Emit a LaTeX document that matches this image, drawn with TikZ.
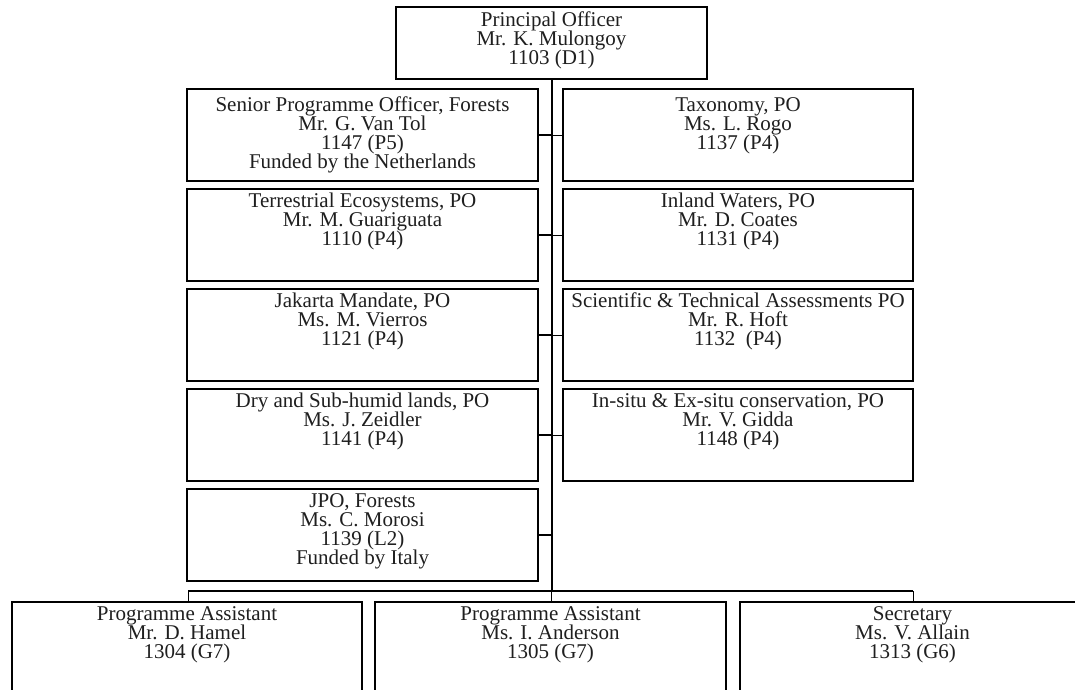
\documentclass[tikz,border=0pt]{standalone}
\usepackage{fontspec}
\setmainfont{Liberation Serif}
\newcommand\fl{\rule{0pt}{14.5pt}}
\newcommand\nodefont{\fontsize{21}{19}\selectfont}
\begin{document}
\setlength{\lineskiplimit}{-30pt}
\begin{tikzpicture}[x=1pt,y=-1pt,
  box/.style={draw, line width=2.6pt, inner sep=0pt, rectangle},
  txt/.style={anchor=north, inner sep=0pt, align=center, text=black!88, font=\nodefont},
  trunk/.style={line width=2pt},
  thinl/.style={line width=1pt},
  busline/.style={line width=2.5pt}]
\clip (0,0) rectangle (1075,689);
\fill[white] (0,0) rectangle (1075,689);
% top
\node[box, minimum width=311pt, minimum height=72pt] (P) at (551.5,43) {};
\node[txt] (tP) at ([yshift=-5.5pt]P.north) {\fl Principal Officer\\Mr. K. Mulongoy\\1103 (D1)};
% left column
\node[box, minimum width=351pt, minimum height=92pt] (L1) at (362.5,135) {};
\node[box, minimum width=351pt, minimum height=92pt] (L2) at (362.5,235) {};
\node[box, minimum width=351pt, minimum height=92pt] (L3) at (362.5,335) {};
\node[box, minimum width=351pt, minimum height=92pt] (L4) at (362.5,435) {};
\node[box, minimum width=351pt, minimum height=92pt] (L5) at (362.5,535) {};
% right column
\node[box, minimum width=350pt, minimum height=92pt] (R1) at (738,135) {};
\node[box, minimum width=350pt, minimum height=92pt] (R2) at (738,235) {};
\node[box, minimum width=350pt, minimum height=92pt] (R3) at (738,335) {};
\node[box, minimum width=350pt, minimum height=92pt] (R4) at (738,435) {};
% bottom row
\node[box, minimum width=350pt, minimum height=120pt] (B1) at (187,662) {};
\node[box, minimum width=351pt, minimum height=120pt] (B2) at (550.5,662) {};
\node[box, minimum width=345pt, minimum height=120pt] (B3) at (912.5,662) {};
% texts
\node[txt] (tL1) at ([yshift=-9pt]L1.north) {\fl Senior Programme Officer, Forests\\Mr. G. Van Tol\\1147 (P5)\\Funded by the Netherlands};
\node[txt] (tL2) at ([yshift=-5pt]L2.north) {\fl Terrestrial Ecosystems, PO\\Mr. M. Guariguata\\1110 (P4)};
\node[txt] (tL3) at ([yshift=-5pt]L3.north) {\fl Jakarta Mandate, PO\\Ms. M. Vierros\\1121 (P4)};
\node[txt] (tL4) at ([yshift=-5pt]L4.north) {\fl Dry and Sub-humid lands, PO\\Ms. J. Zeidler\\1141 (P4)};
\node[txt] (tL5) at ([yshift=-5pt]L5.north) {\fl JPO, Forests\\Ms. C. Morosi\\1139 (L2)\\Funded by Italy};
\node[txt] (tR1) at ([yshift=-9pt]R1.north) {\fl Taxonomy, PO\\Ms. L. Rogo\\1137 (P4)};
\node[txt] (tR2) at ([yshift=-5pt]R2.north) {\fl Inland Waters, PO\\Mr. D. Coates\\1131 (P4)};
\node[txt] (tR3) at ([yshift=-5pt]R3.north) {\fl Scientific \& Technical Assessments PO\\Mr. R. Hoft\\1132~~(P4)};
\node[txt] (tR4) at ([yshift=-5pt]R4.north) {\fl In-situ \& Ex-situ conservation, PO\\Mr. V. Gidda\\1148 (P4)};
\node[txt] (tB1) at ([yshift=-5pt]B1.north) {\fl Programme Assistant\\Mr. D. Hamel\\1304 (G7)};
\node[txt] (tB2) at ([yshift=-5pt]B2.north) {\fl Programme Assistant\\Ms. I. Anderson\\1305 (G7)};
\node[txt] (tB3) at ([yshift=-5pt]B3.north) {\fl Secretary\\Ms. V. Allain\\1313 (G6)};
% connectors
\coordinate (busL) at (188,591);
\coordinate (busR) at (913,591);
\coordinate (busM) at (P.south |- busL);
\draw[trunk] (P.south) -- (busM);
\draw[thinl] (busM) -- (busM |- B2.north);
\foreach \r in {1,2,3,4,5}{\draw[trunk] (L\r.east) -- (L\r.east -| P.south);}
\foreach \r in {1,2,3,4}{\draw[thinl] (R\r.west) -- (R\r.west -| P.south);}
\draw[busline] (busL) -- (busR);
\draw[thinl] (busL) -- (busL |- B1.north);
\draw[thinl] (busR) -- (busR |- B3.north);
\end{tikzpicture}
\end{document}
